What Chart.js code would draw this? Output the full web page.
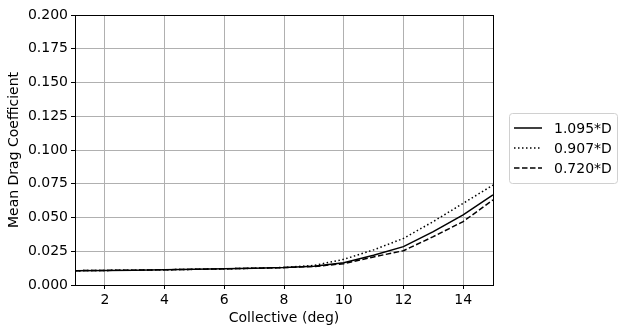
<!DOCTYPE html>
<html>
<head>
<meta charset="utf-8">
<script src="https://cdn.jsdelivr.net/npm/chart.js@4/dist/chart.umd.min.js"></script>
<style>
  html, body { margin: 0; padding: 0; background: #fff; }
  #wrap { width: 621px; height: 333px; }
</style>
</head>
<body>
<div id="wrap"><canvas id="chart" width="621" height="333"></canvas></div>
<script>
// collective angle (deg) and mean drag coefficient for each rotor size
const collective = [1, 2, 3, 4, 5, 6, 7, 8, 9, 10, 11, 12, 13, 14, 15];
const cd1095 = [0.0106, 0.0108, 0.0110, 0.0113, 0.0116, 0.0120, 0.0124, 0.0129, 0.0139, 0.0165, 0.0220, 0.0284, 0.0395, 0.0520, 0.0667];
const cd0907 = [0.0106, 0.0108, 0.0110, 0.0113, 0.0116, 0.0120, 0.0124, 0.0130, 0.0145, 0.0190, 0.0260, 0.0345, 0.0470, 0.0605, 0.0740];
const cd0720 = [0.0106, 0.0108, 0.0110, 0.0113, 0.0116, 0.0120, 0.0124, 0.0129, 0.0137, 0.0158, 0.0208, 0.0254, 0.0358, 0.0470, 0.0630];
const labels = ['1.095*D', '0.907*D', '0.720*D'];
const xTicks = [2, 4, 6, 8, 10, 12, 14];

const font = "'DejaVu Sans', sans-serif";
const fs = 14;

function pts(arr) {
    return collective.map((x, i) => ({ x: x, y: arr[i] }));
}

// legend box + full frame like matplotlib
const frameLegend = {
    id: 'frameLegend',
    afterDraw(chart) {
        const ctx = chart.ctx;
        const a = chart.chartArea;
        ctx.save();
        ctx.strokeStyle = '#000';
        ctx.lineWidth = 1;
        ctx.strokeRect(Math.round(a.left) + 0.5, Math.round(a.top) + 0.5,
                       Math.round(a.right - a.left), Math.round(a.bottom - a.top));

        const lx = 509, ly = 113, lw = 108, lh = 70;
        ctx.strokeStyle = '#d0d0d0';
        ctx.fillStyle = 'rgba(255,255,255,0.8)';
        ctx.beginPath();
        ctx.roundRect(lx + 0.5, ly + 0.5, lw, lh, 3);
        ctx.fill();
        ctx.stroke();

        ctx.font = fs + 'px ' + font;
        ctx.textBaseline = 'middle';
        chart.data.datasets.forEach((ds, i) => {
            const y = ly + 15 + i * 20;
            ctx.strokeStyle = '#000';
            ctx.lineWidth = 1.5;
            ctx.setLineDash(ds.borderDash || []);
            ctx.beginPath();
            ctx.moveTo(lx + 5, y);
            ctx.lineTo(lx + 33, y);
            ctx.stroke();
            ctx.setLineDash([]);
            ctx.fillStyle = '#000';
            ctx.fillText(ds.label, lx + 45, y + 1);
        });
        ctx.restore();
    }
};

new Chart(document.getElementById('chart'), {
    type: 'line',
    data: {
        datasets: [
            { label: labels[0], data: pts(cd1095), borderColor: '#000', borderWidth: 1.5, pointRadius: 0, fill: false },
            { label: labels[1], data: pts(cd0907), borderColor: '#000', borderWidth: 1.5, borderDash: [1.5, 2.5], pointRadius: 0, fill: false },
            { label: labels[2], data: pts(cd0720), borderColor: '#000', borderWidth: 1.5, borderDash: [5.5, 2.5], pointRadius: 0, fill: false }
        ]
    },
    options: {
        responsive: false,
        animation: false,
        layout: { padding: { top: 15, right: 128, left: 0, bottom: 0 } },
        plugins: { legend: { display: false }, tooltip: { enabled: false } },
        scales: {
            x: {
                type: 'linear',
                min: 1,
                max: 15,
                afterBuildTicks(axis) { axis.ticks = xTicks.map(v => ({ value: v })); },
                afterFit(axis) { axis.height = 48; },
                grid: { color: '#b0b0b0', tickColor: '#000', tickLength: 4, lineWidth: 1 },
                border: { color: '#000' },
                ticks: { color: '#000', font: { family: font, size: fs }, padding: 3, maxRotation: 0 },
                title: { display: true, text: 'Collective (deg)', color: '#000', font: { family: font, size: fs }, padding: { top: 0, bottom: 6 } }
            },
            y: {
                min: 0,
                max: 0.2,
                afterBuildTicks(axis) {
                    const t = [];
                    for (let i = 0; i <= 8; i++) t.push({ value: i * 0.025 });
                    axis.ticks = t;
                },
                afterFit(axis) { axis.width = 75; },
                grid: { color: '#b0b0b0', tickColor: '#000', tickLength: 4, lineWidth: 1 },
                border: { color: '#000' },
                ticks: { color: '#000', font: { family: font, size: fs }, padding: 3, callback: v => v.toFixed(3) },
                title: { display: true, text: 'Mean Drag Coefficient', color: '#000', font: { family: font, size: fs }, padding: { top: 6, bottom: 2 } }
            }
        }
    },
    plugins: [frameLegend]
});
</script>
</body>
</html>
